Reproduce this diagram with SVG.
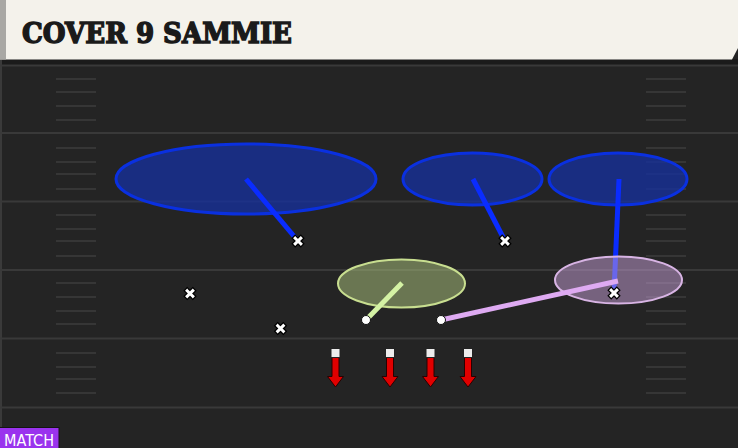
<svg xmlns="http://www.w3.org/2000/svg" width="738" height="448" viewBox="0 0 738 448">
<defs>
<style>
.yard{stroke:#393939;stroke-width:2}
.hash{stroke:#363636;stroke-width:2}
.zone-blue{fill:#1530a0;fill-opacity:0.75;stroke:#0a30e0;stroke-width:3}
.route-blue{stroke:#0a2cff;stroke-width:5;stroke-linecap:butt}
.xo{stroke:#000;stroke-width:5.5;stroke-linecap:square}
.xi{stroke:#fff;stroke-width:3;stroke-linecap:square}
</style>
<g id="xm">
<path class="xo" d="M-2.8,-2.8L2.8,2.8M2.8,-2.8L-2.8,2.8"/>
<path class="xi" d="M-2.8,-2.8L2.8,2.8M2.8,-2.8L-2.8,2.8"/>
</g>
<g id="arrow">
<polygon points="-3.5,356 3.5,356 3.5,376.5 8,376.5 0,387 -8,376.5 -3.5,376.5" fill="#e00000" stroke="#2a0000" stroke-width="1"/>
<rect x="-4.5" y="348.5" width="9" height="9" fill="#ececec" stroke="#222" stroke-width="1"/>
</g>
</defs>

<!-- field -->
<rect x="0" y="0" width="738" height="448" fill="#242424"/>
<rect x="0" y="59" width="738" height="6" fill="#1b1b1b"/>
<rect x="0" y="60" width="2" height="388" fill="#3a3a3a"/>
<g id="yard-lines">
<line class="yard" x1="0" y1="65.5" x2="738" y2="65.5"/>
<line class="yard" x1="0" y1="133" x2="738" y2="133"/>
<line class="yard" x1="0" y1="201.5" x2="738" y2="201.5"/>
<line class="yard" x1="0" y1="270" x2="738" y2="270"/>
<line class="yard" x1="0" y1="338.5" x2="738" y2="338.5"/>
<line class="yard" x1="0" y1="407.5" x2="738" y2="407.5"/>
</g>
<g id="hash-marks">
<path class="hash" d="M56,79H96M56,92H96M56,106H96M56,120H96M56,148H96M56,162H96M56,174H96M56,189H96M56,215H96M56,229H96M56,241H96M56,256H96M56,283H96M56,297H96M56,311H96M56,324H96M56,353H96M56,367H96M56,379H96M56,393H96"/>
<path class="hash" d="M646,79H686M646,92H686M646,106H686M646,120H686M646,148H686M646,162H686M646,174H686M646,189H686M646,215H686M646,229H686M646,241H686M646,256H686M646,283H686M646,297H686M646,311H686M646,324H686M646,353H686M646,367H686M646,379H686M646,393H686"/>
</g>

<!-- header -->
<g id="header">
<polygon points="0,0 738,0 738,48 732,59.5 0,59.5" fill="#f4f2eb"/>
<rect x="0" y="0" width="6" height="59.5" fill="#a9a8a4"/>
<text x="22" y="43" font-family="DejaVu Serif, Liberation Serif, serif" font-weight="bold" font-size="28" fill="#1a1a1a" stroke="#1a1a1a" stroke-width="1.5" stroke-linejoin="miter" textLength="270" lengthAdjust="spacingAndGlyphs">COVER 9 SAMMIE</text>
</g>

<!-- zones -->
<g id="zone-deep-left"><ellipse class="zone-blue" cx="246" cy="179" rx="130" ry="35"/></g>
<g id="zone-deep-middle"><ellipse class="zone-blue" cx="472.5" cy="179" rx="69.5" ry="26"/></g>
<g id="zone-deep-right"><ellipse class="zone-blue" cx="618" cy="179" rx="69" ry="26"/></g>

<g id="connectors">
<line class="route-blue" x1="246" y1="179" x2="298" y2="241"/>
<line class="route-blue" x1="473" y1="179" x2="505" y2="241"/>
<line class="route-blue" x1="619" y1="179" x2="614" y2="292"/>
</g>

<g id="zone-hook"><ellipse cx="401.5" cy="283.5" rx="63.5" ry="24" fill="#b0c880" fill-opacity="0.5" stroke="#c8de90" stroke-width="2"/></g>
<g id="zone-match"><ellipse cx="618.5" cy="280" rx="63.5" ry="23.5" fill="#c8a0d8" fill-opacity="0.5" stroke="#d8b4e4" stroke-width="2"/></g>

<g id="connectors-underneath">
<line x1="402" y1="283" x2="366" y2="320" stroke="#d4f2a4" stroke-width="5"/>
<line x1="441" y1="320" x2="618" y2="281" stroke="#deaaf2" stroke-width="5"/>
</g>

<g id="defender-hook"><circle cx="366" cy="320" r="4.5" fill="#fff" stroke="#111" stroke-width="1"/></g>
<g id="defender-match"><circle cx="441" cy="320" r="4.5" fill="#fff" stroke="#111" stroke-width="1"/></g>

<g id="receivers">
<use href="#xm" x="190" y="293.5"/>
<use href="#xm" x="280.5" y="328.5"/>
<use href="#xm" x="298" y="241"/>
<use href="#xm" x="505" y="241"/>
<use href="#xm" x="614" y="293"/>
</g>

<g id="rushers">
<use href="#arrow" x="335.5" y="0"/>
<use href="#arrow" x="390" y="0"/>
<use href="#arrow" x="430.5" y="0"/>
<use href="#arrow" x="468" y="0"/>
</g>

<g id="match-label">
<rect x="-1" y="427.5" width="60" height="22" fill="#9a33ee" stroke="#141414" stroke-width="1"/>
<text x="4" y="445.5" font-family="DejaVu Sans, Liberation Sans, sans-serif" font-size="16" fill="#fff" textLength="50" lengthAdjust="spacingAndGlyphs">MATCH</text>
</g>
</svg>
